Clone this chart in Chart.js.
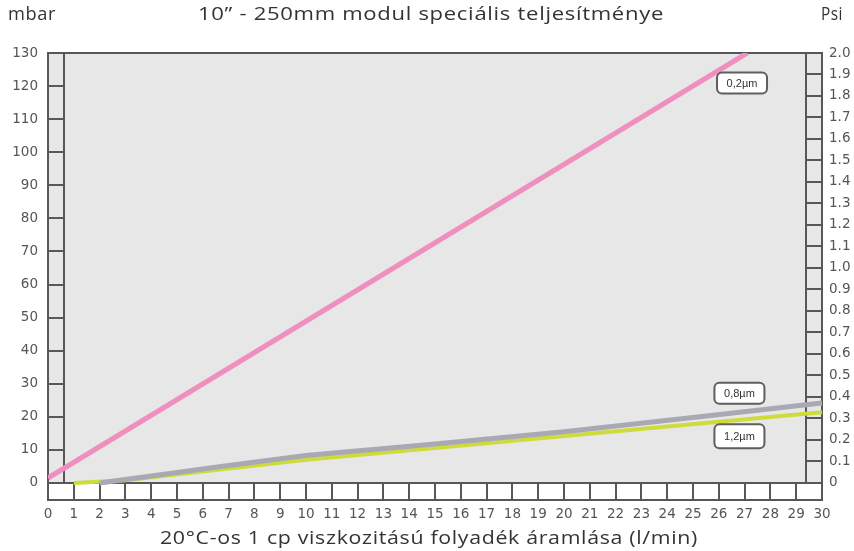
<!DOCTYPE html>
<html>
<head>
<meta charset="utf-8">
<script src="https://cdn.jsdelivr.net/npm/chart.js@4.4.1/dist/chart.umd.min.js"></script>
<style>
  html, body { margin: 0; padding: 0; background: #ffffff; }
  #wrap { width: 854px; height: 551px; }
</style>
</head>
<body>
<div id="wrap"><canvas id="c" width="854" height="551"></canvas></div>
<script>
// Flow (l/min) and pressure drop (mbar) for the three pore sizes
const seriesNames = ['0,2µm', '0,8µm', '1,2µm'];
const flow02 = [0, 27.1];
const mbar02 = [1.5, 130];
const flow08 = [2, 7, 10, 15, 20, 25, 30];
const mbar08 = [0, 5.3, 8.3, 11.8, 15.5, 19.8, 24.2];
const flow12 = [1, 3, 10, 17.5, 30];
const mbar12 = [0, 0.8, 7, 12.4, 21.4];

// Axis ticks
const flowTicks = [0,1,2,3,4,5,6,7,8,9,10,11,12,13,14,15,16,17,18,19,20,21,22,23,24,25,26,27,28,29,30];
const mbarTicks = [0,10,20,30,40,50,60,70,80,90,100,110,120,130];
const psiTicks = [0,0.1,0.2,0.3,0.4,0.5,0.6,0.7,0.8,0.9,1.0,1.1,1.2,1.3,1.4,1.5,1.6,1.7,1.8,1.9,2.0];

// Texts
const titleText = '10” - 250mm modul speciális teljesítménye';
const xTitleText = '20°C-os 1 cp viszkozitású folyadék áramlása (l/min)';
const leftUnit = 'mbar';
const rightUnit = 'Psi';

// Where each series name box sits (data coordinates)
const tagFlow = [26.9, 26.8, 26.8];
const tagMbar = [120.9, 27.1, 14.1];

const MBAR_MAX = 130, PSI_MAX = 2.0;
const STRIP = 16;                 // width of the tick strips around the plot
const BOTTOM_STRIP_MBAR = -5.14;  // y-value at the bottom edge of the lower strip

const toPoints = (xs, ys) => xs.map((v, i) => ({ x: v, y: ys[i] }));

const FRAME = '#575757';
const TEXT_FONT = '19px "Open Sans", Lato, sans-serif';
const tickFont = { family: '"DejaVu Sans", Verdana, sans-serif', size: 13.5 };

// Draws a caption stretched horizontally to a given width
function fittedText(ctx, text, x, y, width, align) {
  ctx.letterSpacing = '0.6px';
  const natural = ctx.measureText(text).width;
  const sx = width / natural;
  let startX = x;
  if (align === 'center') startX = x - width / 2;
  if (align === 'right') startX = x - width;
  ctx.save();
  ctx.textAlign = 'left';
  ctx.translate(startX, y);
  ctx.scale(sx, 1);
  ctx.fillText(text, 0, 0);
  ctx.restore();
  ctx.letterSpacing = '0px';
}

const framePlugin = {
  id: 'frame',
  beforeDatasetsDraw(chart) {
    const { ctx, chartArea: a, scales } = chart;
    const x = scales.x, y = scales.y, y2 = scales.y2;
    const left = x.getPixelForValue(flowTicks[0]);
    const right = x.getPixelForValue(flowTicks[flowTicks.length - 1]);
    const top = y.getPixelForValue(MBAR_MAX);
    const base = y.getPixelForValue(0);
    const bottom = a.bottom;
    ctx.save();
    // plot background
    ctx.fillStyle = '#e7e7e7';
    ctx.fillRect(left, top, right - left, base - top);
    ctx.fillStyle = '#ffffff';
    ctx.fillRect(left, base, right - left, bottom - base);

    ctx.strokeStyle = FRAME;
    ctx.lineWidth = 2;
    ctx.beginPath();
    // outer frame
    ctx.rect(left, top, right - left, bottom - top);
    // inner frame of the plot
    ctx.moveTo(left + STRIP, top); ctx.lineTo(left + STRIP, base);
    ctx.moveTo(right - STRIP, top); ctx.lineTo(right - STRIP, base);
    ctx.moveTo(left, base); ctx.lineTo(right, base);
    // mbar ticks in the left strip
    mbarTicks.forEach(v => {
      const py = Math.round(y.getPixelForValue(v));
      ctx.moveTo(left, py); ctx.lineTo(left + STRIP, py);
    });
    // psi ticks in the right strip
    psiTicks.forEach(v => {
      const py = Math.round(y2.getPixelForValue(v));
      ctx.moveTo(right - STRIP, py); ctx.lineTo(right, py);
    });
    // flow ticks in the bottom strip
    flowTicks.forEach(v => {
      const px = Math.round(x.getPixelForValue(v));
      ctx.moveTo(px, base); ctx.lineTo(px, bottom);
    });
    ctx.stroke();
    ctx.restore();
  },
  afterDatasetsDraw(chart) {
    const { ctx, scales: { x, y } } = chart;
    ctx.save();
    ctx.font = '11px "Liberation Sans", Arial, sans-serif';
    ctx.textAlign = 'center';
    ctx.textBaseline = 'middle';
    seriesNames.forEach((name, i) => {
      const cx = x.getPixelForValue(tagFlow[i]);
      const cy = y.getPixelForValue(tagMbar[i]);
      const w = 50, h = i === 2 ? 24 : 21;
      ctx.beginPath();
      ctx.roundRect(cx - w / 2, cy - h / 2, w, h, 5);
      ctx.fillStyle = '#ffffff';
      ctx.fill();
      ctx.lineWidth = 2;
      ctx.strokeStyle = '#5e5e5e';
      ctx.stroke();
      ctx.fillStyle = '#333333';
      ctx.fillText(name, cx, cy + 1);
    });
    // title, unit captions and flow caption
    ctx.font = TEXT_FONT;
    ctx.fillStyle = '#333333';
    ctx.textBaseline = 'middle';
    fittedText(ctx, leftUnit, 8, 15, 48, 'left');
    fittedText(ctx, rightUnit, 843, 15, 22, 'right');
    fittedText(ctx, titleText, 431, 15, 466, 'center');
    fittedText(ctx, xTitleText, 429, 539, 538, 'center');
    ctx.restore();
  }
};

new Chart(document.getElementById('c'), {
  type: 'line',
  data: {
    datasets: [
      { label: seriesNames[0], data: toPoints(flow02, mbar02), borderColor: '#ef8fbe', borderWidth: 5, pointRadius: 0, yAxisID: 'y' },
      { label: seriesNames[1], data: toPoints(flow08, mbar08), borderColor: '#a9a9b3', borderWidth: 5, pointRadius: 0, yAxisID: 'y' },
      { label: seriesNames[2], data: toPoints(flow12, mbar12), borderColor: '#cddc3a', borderWidth: 4, pointRadius: 0, yAxisID: 'y' }
    ]
  },
  options: {
    responsive: false,
    animation: false,
    devicePixelRatio: 1,
    layout: { padding: { top: 53, left: 0, right: 0, bottom: 0 } },
    plugins: {
      legend: { display: false },
      tooltip: { enabled: false },
      title: { display: false }
    },
    scales: {
      x: {
        type: 'linear',
        min: flowTicks[0],
        max: flowTicks[flowTicks.length - 1],
        grid: { display: false, drawTicks: false },
        border: { display: false },
        afterBuildTicks: s => { s.ticks = flowTicks.map(v => ({ value: v })); },
        afterFit: s => { s.height = 51; },
        ticks: { autoSkip: false, maxRotation: 0, padding: 6, color: '#555555', font: tickFont }
      },
      y: {
        type: 'linear',
        position: 'left',
        min: BOTTOM_STRIP_MBAR,
        max: MBAR_MAX,
        grid: { display: false, drawTicks: false },
        border: { display: false },
        afterBuildTicks: s => { s.ticks = mbarTicks.map(v => ({ value: v })); },
        afterFit: s => { s.width = 48; },
        ticks: { autoSkip: false, padding: 10, color: '#555555', font: tickFont }
      },
      y2: {
        type: 'linear',
        position: 'right',
        min: BOTTOM_STRIP_MBAR * PSI_MAX / MBAR_MAX,
        max: PSI_MAX,
        grid: { display: false, drawTicks: false },
        border: { display: false },
        afterBuildTicks: s => { s.ticks = psiTicks.map(v => ({ value: v })); },
        afterFit: s => { s.width = 32; },
        ticks: {
          autoSkip: false, padding: 7, color: '#555555', font: tickFont,
          callback: v => (v === 0 ? '0' : v.toFixed(1))
        }
      }
    }
  },
  plugins: [framePlugin]
});
</script>
</body>
</html>
